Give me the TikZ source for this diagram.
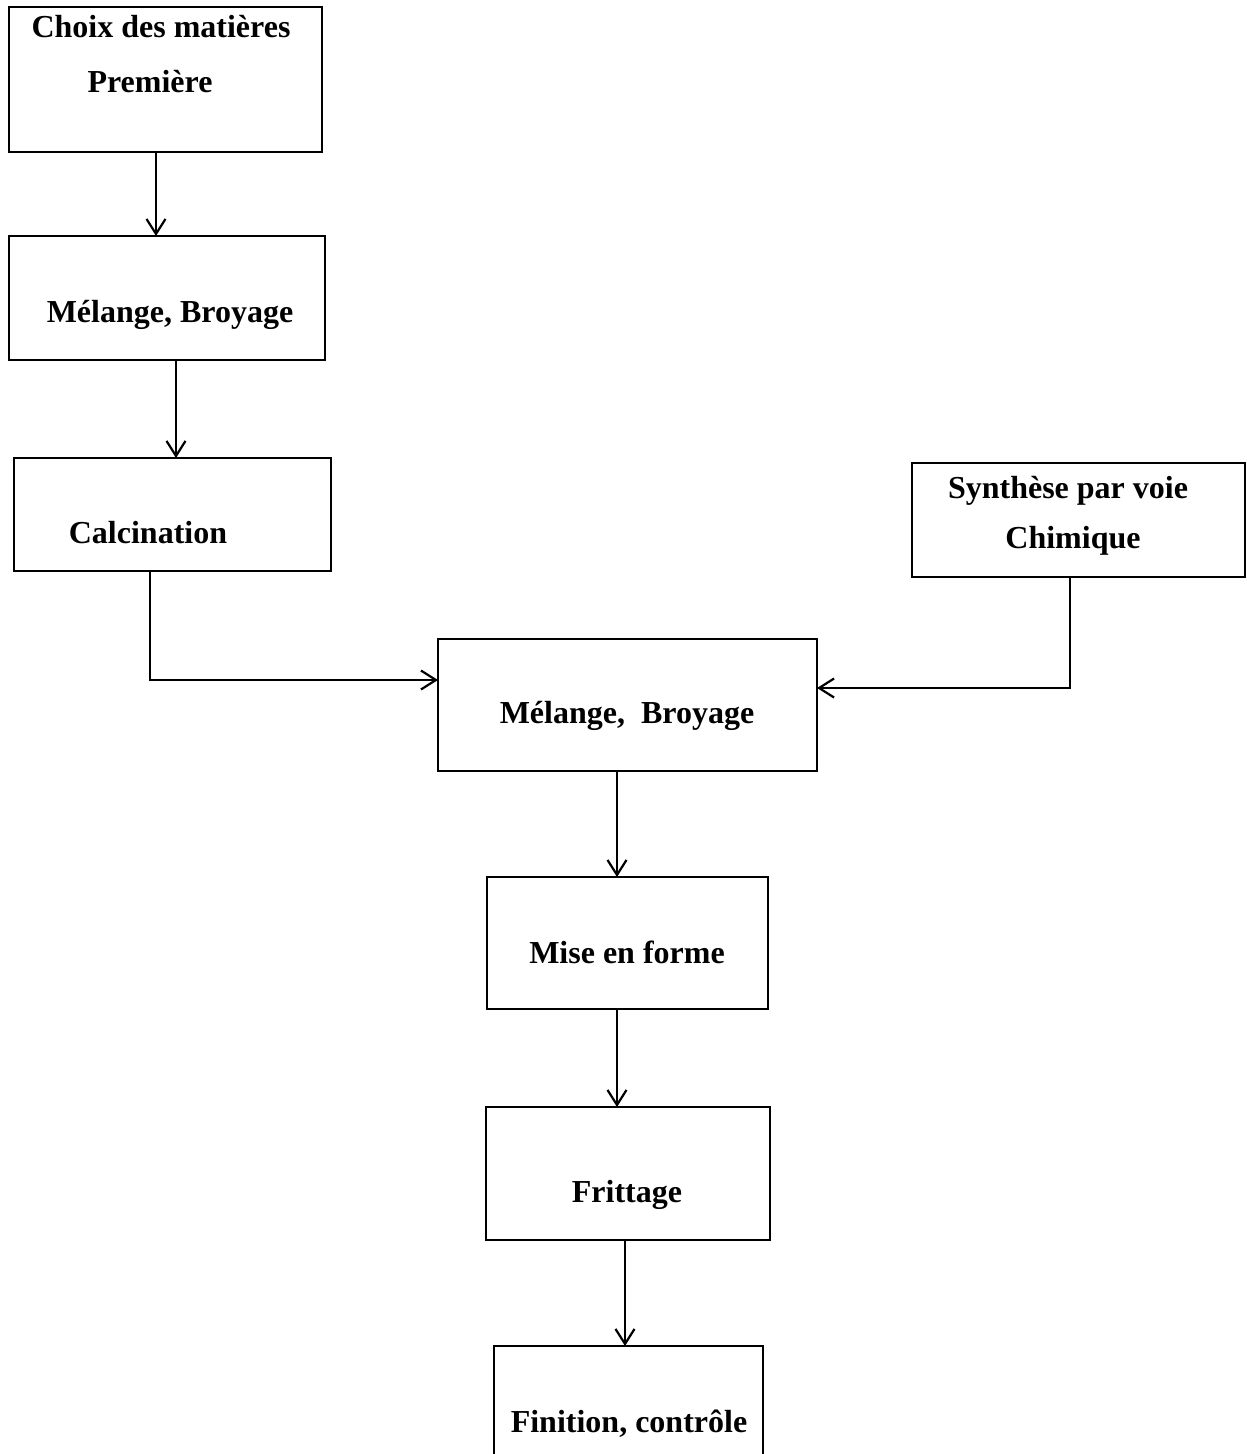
\documentclass[tikz,border=0pt]{standalone}
\usepackage{fontspec}
\setmainfont{Liberation Serif}
\usetikzlibrary{arrows.meta}
\begin{document}
\begin{tikzpicture}[x=1pt,y=-1pt,
  box/.style={draw, line width=2.4pt, inner sep=0pt, outer sep=0pt},
  lbl/.style={anchor=base, inner sep=0pt, font=\fontsize{32}{38}\selectfont\bfseries},
  arr/.style={line width=2.2pt, -{Straight Barb[length=15pt,width=19pt,line width=2.2pt]}}]
\useasboundingbox (0,0) rectangle (1247,1454);
\clip (0,0) rectangle (1247,1454);
\fill[white] (0,0) rectangle (1247,1454);
% boxes
\node (b1) [box, minimum width=313pt, minimum height=145pt] at (165.5,79.5) {};
\node (b2) [box, minimum width=316pt, minimum height=124pt] at (167,298) {};
\node (b3) [box, minimum width=317pt, minimum height=113pt] at (172.5,514.5) {};
\node (b4) [box, minimum width=333pt, minimum height=114pt] at (1078.5,520) {};
\node (b5) [box, minimum width=379pt, minimum height=132pt] at (627.5,705) {};
\node (b6) [box, minimum width=281pt, minimum height=132pt] at (627.5,943) {};
\node (b7) [box, minimum width=284pt, minimum height=133pt] at (628,1173.5) {};
\node (b8) [box, minimum width=269pt, minimum height=134pt] at (628.5,1413) {};
% labels
\node (t1a) [lbl] at (161,37) {Choix des matières};
\node (t1b) [lbl] at (150,92) {Première};
\node (t2) [lbl] at (170,322) {Mélange, Broyage};
\node (t3) [lbl] at (148,543) {Calcination};
\node (t4a) [lbl] at (1068,498) {Synthèse par voie};
\node (t4b) [lbl] at (1073,548) {Chimique};
\node (t5) [lbl] at (627,723) {Mélange,\ \ Broyage};
\node (t6) [lbl] at (627,963) {Mise en forme};
\node (t7) [lbl] at (627,1202) {Frittage};
\node (t8) [lbl] at (629,1432) {Finition, contrôle};
% connectors
\draw[arr] ([xshift=-9.5pt]b1.south) -- ([xshift=-11pt]b2.north);
\draw[arr] ([xshift=9pt]b2.south) -- ([xshift=3.5pt]b3.north);
\draw[arr] ([xshift=-22.5pt]b3.south) |- ([yshift=25pt]b5.west);
\draw[arr] ([xshift=-8.5pt]b4.south) |- ([yshift=17pt]b5.east);
\draw[arr] ([xshift=-10.5pt]b5.south) -- ([xshift=-10.5pt]b6.north);
\draw[arr] ([xshift=-10.5pt]b6.south) -- ([xshift=-11pt]b7.north);
\draw[arr] ([xshift=-3pt]b7.south) -- ([xshift=-3.5pt]b8.north);
\end{tikzpicture}
\end{document}
